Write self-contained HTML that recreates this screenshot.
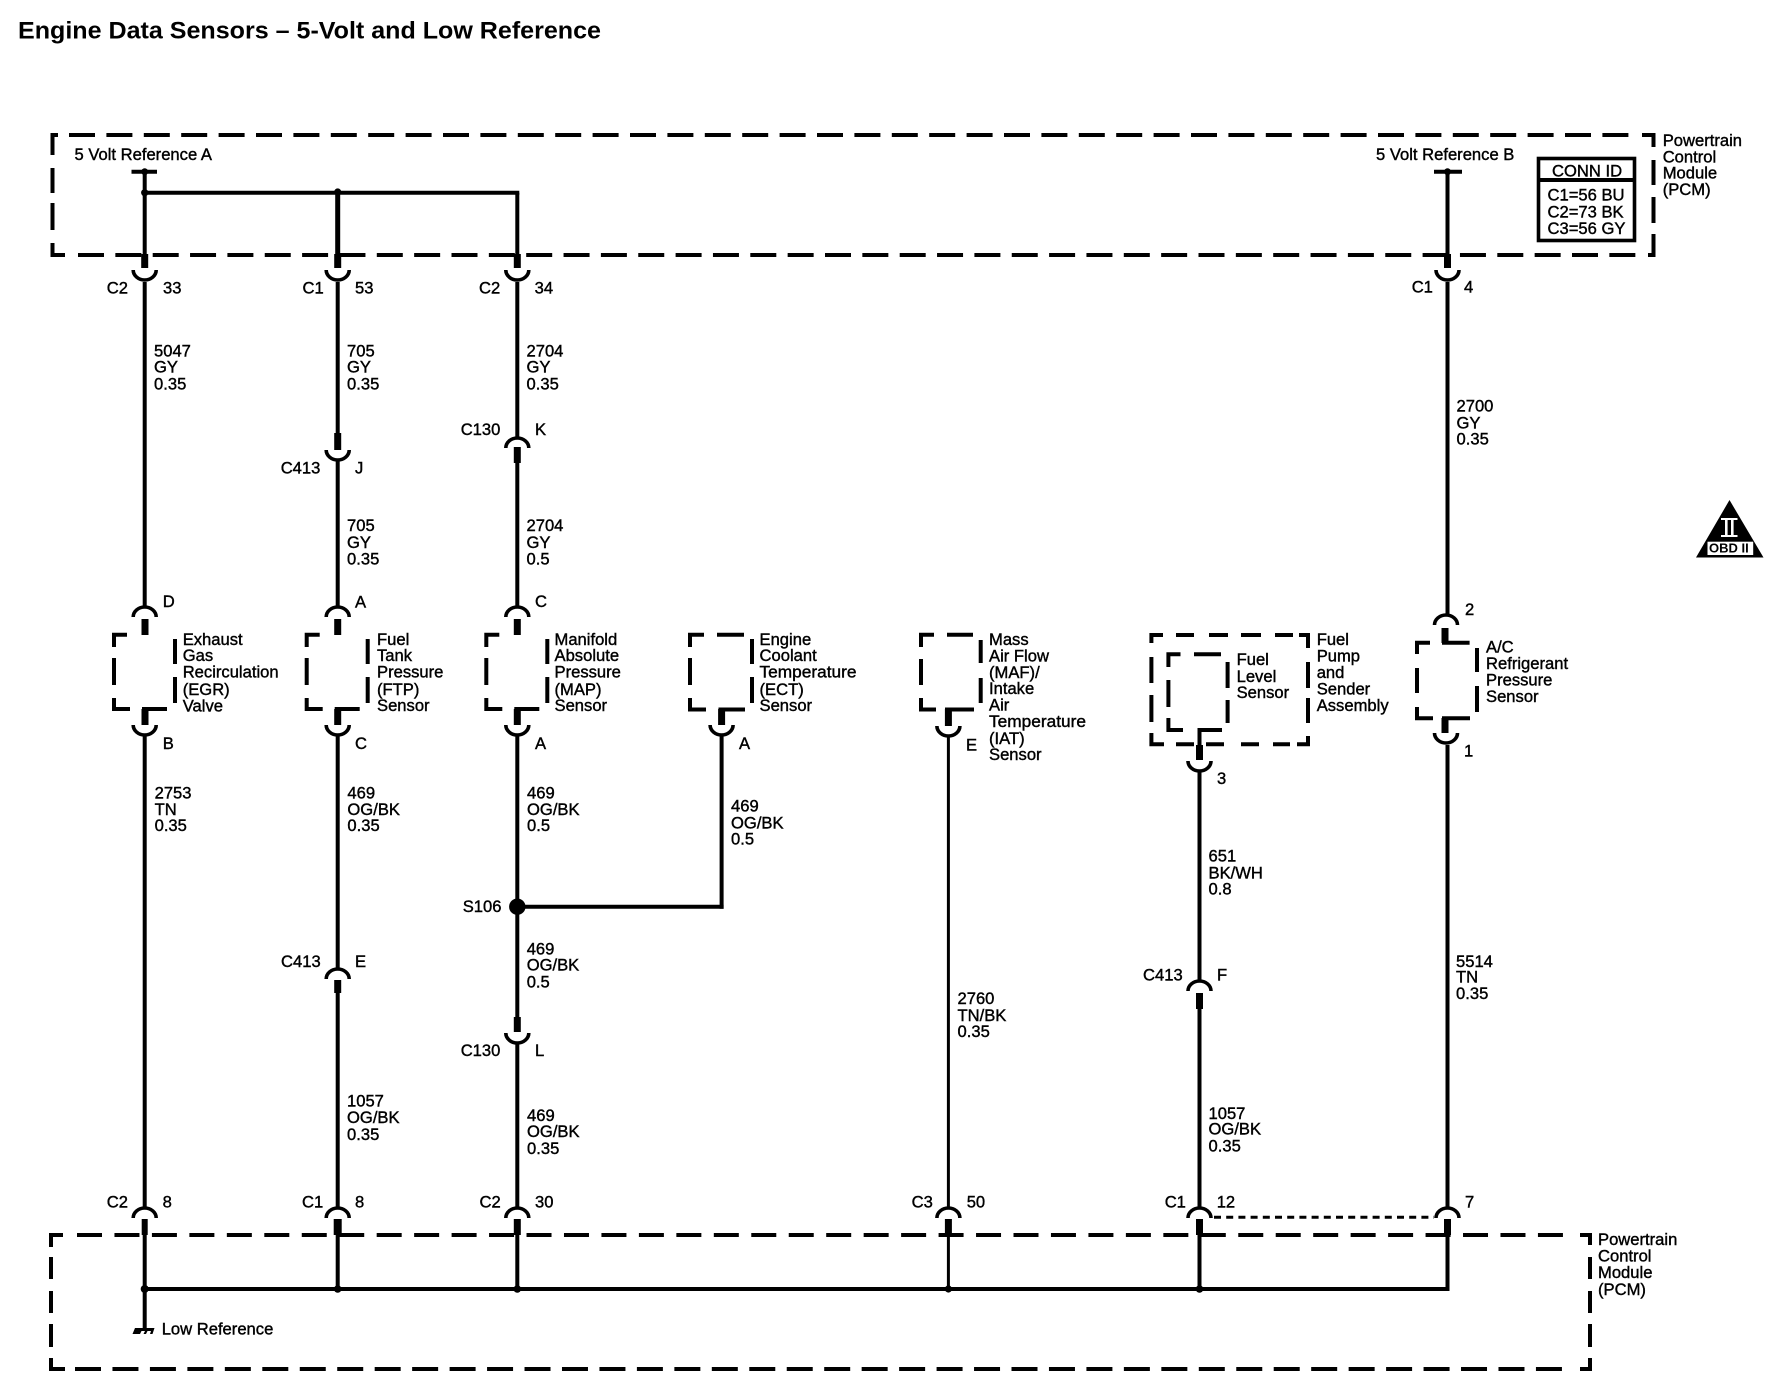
<!DOCTYPE html>
<html><head><meta charset="utf-8"><title>Engine Data Sensors</title>
<style>
html,body{margin:0;padding:0;background:#fff}
svg{display:block}
text{font-family:"Liberation Sans",Arial,sans-serif;font-size:16.6px;fill:#000;stroke:#000;stroke-width:.4px}
.w{fill:none;stroke:#000;stroke-width:4}
.s{fill:none;stroke:#000;stroke-width:7}
</style></head><body>
<svg width="1766" height="1392" viewBox="0 0 1766 1392" xmlns="http://www.w3.org/2000/svg">
<defs>
<path id="u" d="M-11.5,0 A11.5,10 0 0 0 11.5,0" fill="none" stroke="#000" stroke-width="3.6"/>
<path id="n" d="M-11.5,10 A11.5,10 0 0 1 11.5,10" fill="none" stroke="#000" stroke-width="3.6"/>
<g id="box" fill="none" stroke="#000" stroke-width="4">
<path d="M-31,13 V0.7 H-18"/><path d="M-31,24 V51"/><path d="M-31,64 V75 H-15"/>
<path d="M30,5 V30"/><path d="M30,43 V69"/><path d="M-3,75 H22"/>
</g>
</defs>
<rect width="1766" height="1392" fill="#fff"/>

<text x="18" y="38.5" textLength="583" lengthAdjust="spacingAndGlyphs" style="font-size:24px;font-weight:bold;stroke-width:0">Engine Data Sensors – 5-Volt and Low Reference</text>

<!-- top PCM box -->
<g class="w">
<path d="M69,135 H1638" stroke-dasharray="26 11.4"/>
<path d="M58,135 H52.5 V155"/><path d="M52.5,168 V193"/><path d="M52.5,203 V230"/><path d="M52.5,243 V255 H65"/>
<path d="M78,255 H1638" stroke-dasharray="26 11.35"/>
<path d="M1642,135 H1653.5 V147"/><path d="M1653.5,160 V185"/><path d="M1653.5,197 V223"/><path d="M1653.5,234 V255 H1648"/>
</g>
<!-- bottom PCM box -->
<g class="w">
<path d="M77,1235 H1570" stroke-dasharray="25 12.46"/>
<path d="M51,1247 V1235 H63"/><path d="M51,1257 V1279"/><path d="M51,1291 V1313"/><path d="M51,1324 V1347"/><path d="M51,1358 V1369 H65"/>
<path d="M75,1369 H1570" stroke-dasharray="26 11.46"/>
<path d="M1580,1235 H1590 V1245"/><path d="M1590,1257 V1279"/><path d="M1590,1291 V1313"/><path d="M1590,1324 V1347"/><path d="M1590,1358 V1369 H1580"/>
</g>

<!-- T terminals and top bus -->
<path class="w" d="M131.5,171.7 H157"/><circle cx="144.7" cy="171.7" r="3.4"/>
<path class="w" d="M1434,171.7 H1462"/><circle cx="1447.5" cy="171.7" r="3.4"/>
<path class="w" d="M144.7,192.7 H519.3"/>
<circle cx="144.7" cy="192.7" r="3.6"/><circle cx="337.7" cy="192" r="3.6"/>

<!-- Wire A -->
<g class="w">
<path d="M144.7,171.7 V254"/><path d="M144.7,282 V607"/><path d="M144.7,736 V1208"/><path d="M144.7,1235 V1329"/>
</g>
<g class="s"><path d="M144.7,254 V268"/><path d="M145,619 V635"/><path d="M145,709 V725"/><path d="M144.7,1219 V1235" style="stroke-width:6"/></g>
<use href="#u" x="144.7" y="270"/><use href="#n" x="144.7" y="607"/><use href="#box" x="145" y="634"/><use href="#u" x="144.7" y="725"/><use href="#n" x="144.7" y="1208"/>

<!-- Wire B -->
<g class="w">
<path d="M337.7,192.7 V254" style="stroke-width:5"/><path d="M337.7,282 V433"/><path d="M337.7,459 V607"/><path d="M337.7,736 V968"/><path d="M337.7,993 V1208"/><path d="M337.7,1235 V1289"/>
</g>
<g class="s"><path d="M337.7,254 V268"/><path d="M337.7,433 V450"/><path d="M337.7,619 V635"/><path d="M337.7,709 V725"/><path d="M337.7,980 V993"/><path d="M337.7,1219 V1235" style="stroke-width:8"/></g>
<use href="#u" x="337.7" y="270"/><use href="#u" x="337.7" y="450"/><use href="#n" x="337.7" y="607"/><use href="#box" x="337.7" y="634"/><use href="#u" x="337.7" y="725"/><use href="#n" x="337.7" y="969"/><use href="#n" x="337.7" y="1208"/>

<!-- Wire C -->
<g class="w">
<path d="M517.3,192.7 V254"/><path d="M517.3,282 V438"/><path d="M517.3,463 V607"/><path d="M517.3,736 V1017"/><path d="M517.3,1043 V1208"/><path d="M517.3,1235 V1289"/>
<path d="M517.3,906.7 H723.6"/>
</g>
<g class="s"><path d="M517.3,254 V268"/><path d="M517.3,447 V463"/><path d="M517.3,619 V635"/><path d="M517.3,709 V725"/><path d="M517.3,1017 V1032"/><path d="M517.3,1219 V1235"/></g>
<use href="#u" x="517.3" y="270"/><use href="#n" x="517.3" y="438"/><use href="#n" x="517.3" y="607"/><use href="#box" x="517.3" y="634"/><use href="#u" x="517.3" y="725"/><use href="#u" x="517.3" y="1033"/><use href="#n" x="517.3" y="1208"/>
<circle cx="517.3" cy="906.7" r="8.2"/>

<!-- ECT -->
<g class="w" fill="none"><path d="M721.6,736 V908.7"/></g>
<path class="s" d="M721.6,709 V725"/>
<g fill="none" stroke="#000" stroke-width="4">
<path d="M690,647 V634.7 H704"/><path d="M717,634.7 H744"/><path d="M690,658 V685"/><path d="M690,698 V709.5 H706"/>
<path d="M752,639 V664"/><path d="M752,677 V703"/><path d="M718.5,709.5 H745"/>
</g>
<use href="#u" x="721.6" y="725"/>

<!-- MAF -->
<g fill="none" stroke="#000" stroke-width="4">
<path d="M921,647 V634.7 H934"/><path d="M947,634.7 H973"/><path d="M921,659 V685"/><path d="M921,698 V709.5 H936"/>
<path d="M980.7,640 V663"/><path d="M980.7,678 V703"/><path d="M945,709.5 H974"/>
</g>
<path class="s" d="M948.4,709 V726"/><use href="#u" x="948.4" y="726"/>
<path class="w" d="M948.4,737 V1208" style="stroke-width:3"/>
<use href="#n" x="948.4" y="1208"/><path class="s" d="M948.4,1219 V1235"/><path class="w" d="M948.4,1235 V1289" style="stroke-width:3"/>

<!-- Fuel outer box -->
<g fill="none" stroke="#000" stroke-width="4">
<path d="M1151.4,643 V635 H1163"/><path d="M1176,635 H1194"/><path d="M1209,635 H1228"/><path d="M1241,635 H1261"/><path d="M1275,635 H1293"/><path d="M1299,635 H1308 V648"/>
<path d="M1151.4,657 V683"/><path d="M1151.4,695 V722"/><path d="M1151.4,733 V744.3 H1164"/>
<path d="M1176,744.3 H1194"/><path d="M1206,744.3 H1224"/><path d="M1241,744.3 H1259"/><path d="M1273,744.3 H1290"/><path d="M1297,744.3 H1308 V736"/>
<path d="M1308,662 V688"/><path d="M1308,698 V723"/>
</g>
<!-- Fuel inner box -->
<g fill="none" stroke="#000" stroke-width="4">
<path d="M1168.4,667 V654.3 H1180.5"/><path d="M1194,654.3 H1221"/><path d="M1168.4,680 V707"/><path d="M1168.4,718 V730 H1183"/>
<path d="M1227.6,662 V688"/><path d="M1227.6,700 V723"/><path d="M1197.5,730 H1222"/>
<path d="M1199.5,730 V745"/>
</g>
<path class="s" d="M1199.5,745 V760"/><use href="#u" x="1199.5" y="761"/>
<path class="w" d="M1199.5,772 V980"/><use href="#n" x="1199.5" y="981"/>
<path class="s" d="M1199.5,993 V1009"/>
<path class="w" d="M1199.5,1009 V1208"/><use href="#n" x="1199.5" y="1208"/>
<path class="s" d="M1199.5,1219 V1235"/><path class="w" d="M1199.5,1235 V1289"/>

<!-- AC wire -->
<g class="w">
<path d="M1447.5,171.7 V254"/><path d="M1447.5,282 V615"/><path d="M1447.5,745 V1208"/><path d="M1447.5,1235 V1291"/>
</g>
<g class="s"><path d="M1447.5,254 V268"/><path d="M1445,628 V643"/><path d="M1445,718 V733"/><path d="M1447.5,1219 V1235"/></g>
<use href="#u" x="1447.5" y="270"/><use href="#n" x="1446" y="615"/><use href="#u" x="1446" y="733"/><use href="#n" x="1447.5" y="1208"/>
<g fill="none" stroke="#000" stroke-width="4">
<path d="M1417,654 V642.7 H1430"/><path d="M1442,642.7 H1469.6"/><path d="M1417,668 V693"/><path d="M1417,707 V718.3 H1433"/>
<path d="M1477,648 V672"/><path d="M1477,686 V712"/><path d="M1442,718.3 H1470"/>
</g>

<!-- bottom bus -->
<path class="w" d="M144.7,1289 H1449.5"/>
<circle cx="144.7" cy="1289" r="4"/><circle cx="337.7" cy="1289" r="3.8"/><circle cx="517.3" cy="1289" r="3.8"/><circle cx="948.4" cy="1289" r="3.6"/><circle cx="1199.5" cy="1289" r="3.8"/>
<path d="M1214,1217.3 H1434" fill="none" stroke="#000" stroke-width="3" stroke-dasharray="7 5.2"/>

<!-- ground -->
<path d="M135,1328 H154.5 L152.5,1334 H150 L151,1331 H147.5 L146,1334 H143.5 L145,1331 H141.5 L140,1334 H132.5 Z"/>

<!-- CONN ID -->
<rect x="1538.5" y="158.5" width="96" height="82" fill="#fff" stroke="#000" stroke-width="3.6"/>
<path d="M1538.5,180 H1634.5" stroke="#000" stroke-width="4"/>
<text x="1552" y="176.7">CONN ID</text>
<text x="1547.5" y="200.7">C1=56 BU</text>
<text x="1547.5" y="217.3">C2=73 BK</text>
<text x="1547.5" y="234">C3=56 GY</text>

<!-- OBD II -->
<path d="M1729.5,500 L1763.5,557.5 H1696 Z"/>
<rect x="1707.5" y="541.7" width="45.7" height="13.3" fill="#fff"/>
<rect x="1721" y="518" width="16.5" height="2" fill="#fff"/>
<rect x="1721" y="535" width="16.5" height="2" fill="#fff"/>
<rect x="1725" y="520" width="2.6" height="15" fill="#fff"/><rect x="1731" y="520" width="2.6" height="15" fill="#fff"/>
<text x="1709" y="552.7" style="font-size:13px;font-weight:bold;stroke-width:0">OBD II</text>

<!-- labels -->
<text x="74.5" y="160">5 Volt Reference A</text>
<text x="1376" y="160">5 Volt Reference B</text>
<text x="1662.7" y="146">Powertrain</text><text x="1662.7" y="162.3">Control</text><text x="1662.7" y="178.3">Module</text><text x="1662.7" y="195">(PCM)</text>
<text x="1598" y="1245">Powertrain</text><text x="1598" y="1261.7">Control</text><text x="1598" y="1278">Module</text><text x="1598" y="1295">(PCM)</text>
<text x="161.7" y="1334.5">Low Reference</text>

<text x="106.8" y="293.3">C2</text><text x="163" y="293.3">33</text>
<text x="302.5" y="293.3">C1</text><text x="355" y="293.3">53</text>
<text x="479" y="293.3">C2</text><text x="534.6" y="293.3">34</text>
<text x="1411.7" y="292.7">C1</text><text x="1464" y="292.7">4</text>

<text x="154" y="356.7">5047</text><text x="154" y="372.7">GY</text><text x="154" y="389.3">0.35</text>
<text x="347" y="356.7">705</text><text x="347" y="372.7">GY</text><text x="347" y="389.3">0.35</text>
<text x="526.5" y="356.7">2704</text><text x="526.5" y="372.7">GY</text><text x="526.5" y="389.3">0.35</text>
<text x="1456.5" y="411.7">2700</text><text x="1456.5" y="428.3">GY</text><text x="1456.5" y="444.3">0.35</text>

<text x="280.7" y="473.5">C413</text><text x="355" y="473.5">J</text>
<text x="460.7" y="435">C130</text><text x="535" y="435">K</text>

<text x="347" y="531">705</text><text x="347" y="548">GY</text><text x="347" y="564.7">0.35</text>
<text x="526.5" y="531">2704</text><text x="526.5" y="548">GY</text><text x="526.5" y="564.7">0.5</text>

<text x="162.7" y="607">D</text><text x="355" y="607.5">A</text><text x="535" y="607">C</text><text x="1465" y="615">2</text>
<text x="162.7" y="749">B</text><text x="355" y="749">C</text><text x="535" y="749">A</text><text x="739" y="749">A</text><text x="966" y="750.5">E</text><text x="1217" y="784">3</text><text x="1464" y="756.7">1</text>

<text x="182.7" y="645">Exhaust</text><text x="182.7" y="661">Gas</text><text x="182.7" y="677.5">Recirculation</text><text x="182.7" y="695">(EGR)</text><text x="182.7" y="711.7">Valve</text>
<text x="377" y="645">Fuel</text><text x="377" y="661">Tank</text><text x="377" y="677.5">Pressure</text><text x="377" y="695">(FTP)</text><text x="377" y="711">Sensor</text>
<text x="554.5" y="645">Manifold</text><text x="554.5" y="661">Absolute</text><text x="554.5" y="677.5">Pressure</text><text x="554.5" y="695">(MAP)</text><text x="554.5" y="711">Sensor</text>
<text x="759.5" y="645">Engine</text><text x="759.5" y="661">Coolant</text><text x="759.5" y="677.5" textLength="97" lengthAdjust="spacingAndGlyphs">Temperature</text><text x="759.5" y="695">(ECT)</text><text x="759.5" y="711">Sensor</text>
<text x="989" y="645">Mass</text><text x="989" y="661.7">Air Flow</text><text x="989" y="678">(MAF)/</text><text x="989" y="694">Intake</text><text x="989" y="710.7">Air</text><text x="989" y="727" textLength="97" lengthAdjust="spacingAndGlyphs">Temperature</text><text x="989" y="744">(IAT)</text><text x="989" y="760">Sensor</text>
<text x="1236.6" y="665">Fuel</text><text x="1236.6" y="682">Level</text><text x="1236.6" y="698">Sensor</text>
<text x="1316.7" y="645">Fuel</text><text x="1316.7" y="661.7">Pump</text><text x="1316.7" y="678">and</text><text x="1316.7" y="694.7">Sender</text><text x="1316.7" y="711">Assembly</text>
<text x="1486" y="652.7">A/C</text><text x="1486" y="669">Refrigerant</text><text x="1486" y="685.7">Pressure</text><text x="1486" y="702">Sensor</text>

<text x="154.6" y="798.3">2753</text><text x="154.6" y="815">TN</text><text x="154.6" y="831">0.35</text>
<text x="347.4" y="798.3">469</text><text x="347.4" y="815">OG/BK</text><text x="347.4" y="831">0.35</text>
<text x="527" y="798.3">469</text><text x="527" y="815">OG/BK</text><text x="527" y="831">0.5</text>
<text x="731" y="811.7">469</text><text x="731" y="828.3">OG/BK</text><text x="731" y="844.3">0.5</text>
<text x="1208.5" y="861.7">651</text><text x="1208.5" y="878.3">BK/WH</text><text x="1208.5" y="894.3">0.8</text>

<text x="462.7" y="912">S106</text>
<text x="526.7" y="954.7">469</text><text x="526.7" y="970.7">OG/BK</text><text x="526.7" y="987.3">0.5</text>
<text x="281" y="967">C413</text><text x="355" y="967">E</text>
<text x="1143" y="980.7">C413</text><text x="1217" y="980.7">F</text>
<text x="460.7" y="1056">C130</text><text x="535" y="1056">L</text>

<text x="957.5" y="1004">2760</text><text x="957.5" y="1021">TN/BK</text><text x="957.5" y="1037">0.35</text>
<text x="1456" y="967">5514</text><text x="1456" y="982.5">TN</text><text x="1456" y="999">0.35</text>
<text x="347" y="1106.4">1057</text><text x="347" y="1123">OG/BK</text><text x="347" y="1140">0.35</text>
<text x="527" y="1121">469</text><text x="527" y="1137">OG/BK</text><text x="527" y="1154">0.35</text>
<text x="1208.5" y="1119">1057</text><text x="1208.5" y="1134.6">OG/BK</text><text x="1208.5" y="1151.6">0.35</text>

<text x="106.8" y="1207.3">C2</text><text x="162.6" y="1207.3">8</text>
<text x="302" y="1207.3">C1</text><text x="355" y="1207.3">8</text>
<text x="479.5" y="1207.3">C2</text><text x="535" y="1207.3">30</text>
<text x="911.6" y="1207.3">C3</text><text x="966.7" y="1207.3">50</text>
<text x="1164.7" y="1207.3">C1</text><text x="1216.7" y="1207.3">12</text>
<text x="1465" y="1207.3">7</text>
</svg>
</body></html>
